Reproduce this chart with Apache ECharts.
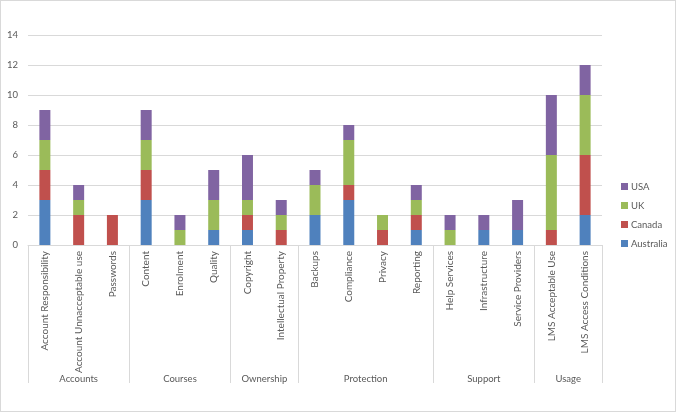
<!DOCTYPE html>
<html><head><meta charset="utf-8">
<script src="https://cdn.jsdelivr.net/npm/echarts@6/dist/echarts.min.js"></script>
<style>html,body{margin:0;padding:0;background:#fff}#c{width:676px;height:412px;box-sizing:border-box;border:1px solid #d9d9d9}</style>
</head><body><div id="c"></div>
<script>
const categories = ["Account Responsibility","Account Unnacceptable use","Passwords","Content","Enrolment","Quality","Copyright","Intellectual Property","Backups","Compliance","Privacy","Reporting","Help Services","Infrastructure","Service Providers","LMS Acceptable Use","LMS Access Conditions"];
const groups = ["Accounts","Courses","Ownership","Protection","Support","Usage"];
const groupSizes = [3,3,2,4,3,2];
const australia = [3,0,0,3,0,1,1,0,2,3,0,1,0,1,1,0,2];
const canada    = [2,2,2,2,0,0,1,1,0,1,1,1,0,0,0,1,4];
const uk        = [2,1,0,2,1,2,1,1,2,3,1,1,1,0,0,5,4];
const usa       = [2,1,0,2,1,2,3,1,1,1,0,1,1,1,2,4,2];
const yTicks = {min:0, max:14, interval:2};

const starts = []; const centers = {};
let acc = 0;
groupSizes.forEach((s,i)=>{ starts.push(acc); centers[(acc + s/2).toFixed(1)] = groups[i]; acc += s; });

const txt = '#595959', grid = '#d9d9d9';
const mk = (name, data, color) => ({name, type:'bar', stack:'t', data, barWidth:11, itemStyle:{color}});
const chart = echarts.init(document.getElementById('c'));
chart.setOption({
  animation:false,
  textStyle:{fontFamily:'Lato, Open Sans, sans-serif'},
  grid:{left:27, right:73, top:34, bottom:166},
  legend:{orient:'vertical', left:615, top:175, itemWidth:7, itemHeight:7, itemGap:8,
    data:['USA','UK','Canada','Australia'], icon:'rect',
    textStyle:{color:txt, fontSize:9.5, padding:[0,0,0,-2], lineHeight:11}},
  xAxis:[
    {type:'category', data:categories, position:'bottom',
     axisLine:{lineStyle:{color:grid}}, axisTick:{show:false},
     axisLabel:{rotate:90, interval:0, color:txt, fontSize:10, margin:6}},
    {type:'category', data:categories, position:'bottom', axisLine:{show:false},
     axisTick:{show:true, length:138, lineStyle:{color:grid}, interval:(i)=>starts.includes(i)},
     axisLabel:{show:false}},
    {type:'value', min:0, max:17, interval:0.5, position:'bottom', offset:121,
     axisLine:{show:false}, axisTick:{show:false}, splitLine:{show:false},
     axisLabel:{color:txt, fontSize:9.5, showMinLabel:true, showMaxLabel:true,
       formatter:(v)=>centers[v.toFixed(1)] || ''}}
  ],
  yAxis:{type:'value', min:yTicks.min, max:yTicks.max, interval:yTicks.interval,
    axisLine:{show:false}, axisTick:{show:false},
    axisLabel:{color:txt, fontSize:9.5, margin:10},
    splitLine:{lineStyle:{color:grid}}},
  series:[
    mk('Australia', australia, '#4f81bd'),
    mk('Canada', canada, '#c0504d'),
    mk('UK', uk, '#9bbb59'),
    mk('USA', usa, '#8064a2')
  ]
});
</script></body></html>
